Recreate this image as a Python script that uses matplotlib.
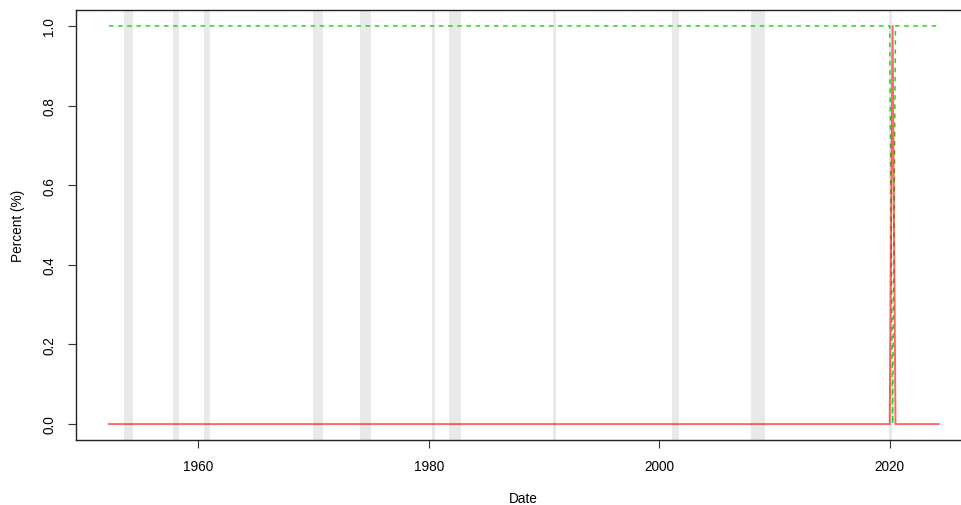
import numpy as np
import matplotlib
matplotlib.use("Agg")
import matplotlib.pyplot as plt

plt.rcParams['font.family'] = ['Liberation Sans', 'DejaVu Sans']

# quarterly dates, first and last quarter of the sample
date_start = 1952.25
date_end = 2024.25
# quarter where the recession indicator switches on
spike_quarters = [2020.25]

# NBER recession bands (start, end)
rec_start = [1953.55, 1957.8, 1960.5, 1970.0, 1974.0, 1980.25, 1981.75,
             1990.77, 2001.15, 2007.95, 2019.95]
rec_end = [1954.35, 1958.3, 1961.0, 1970.8, 1975.0, 1980.52, 1982.8,
           1991.03, 2001.7, 2009.2, 2020.2]

dates = np.arange(date_start, date_end + 0.01, 0.25)
pred = np.zeros(len(dates))
for q in spike_quarters:
    pred[np.isclose(dates, q)] = 1.0
other = 1.0 - pred

fig = plt.figure(figsize=(9.61, 5.06), dpi=100)
ax = fig.add_axes([75.7 / 961, 1 - 441 / 506, (971.9 - 75.7) / 961, 430 / 506])

for s, e in zip(rec_start, rec_end):
    ax.axvspan(s, e, color='#e9e9e9', lw=0, zorder=0)

ax.plot(dates, other, color='#00cd00', alpha=0.85, lw=1.1, ls=(0, (3, 3)), zorder=2)
ax.plot(dates, pred, color='red', alpha=0.6, lw=1.4, zorder=3)

ax.set_xlim(1949.37, 2027.13)
ax.set_ylim(-0.04, 1.04)
ax.set_xticks([1960, 1980, 2000, 2020])
ax.set_yticks([0.0, 0.2, 0.4, 0.6, 0.8, 1.0])
ax.set_yticklabels(['0.0', '0.2', '0.4', '0.6', '0.8', '1.0'])

ax.tick_params(length=6, width=0.8, labelsize=9.8, color='#333333')
ax.tick_params(axis='x', pad=8)
ax.tick_params(axis='y', pad=8, labelrotation=90)
for lab in ax.get_yticklabels():
    lab.set_va('center')

# the box runs past the right edge of the picture, so no right side shows
ax.spines['right'].set_visible(False)
for sp in ax.spines.values():
    sp.set_linewidth(1.0)
    sp.set_color('#222222')

fig.text(523.8 / 961, 1 - 499 / 506, 'Date', ha='center', va='center', fontsize=9.8)
fig.text(18 / 961, 1 - 226 / 506, 'Percent (%)', ha='center', va='center',
         rotation=90, fontsize=9.8)

fig.savefig('out.png', dpi=100)
